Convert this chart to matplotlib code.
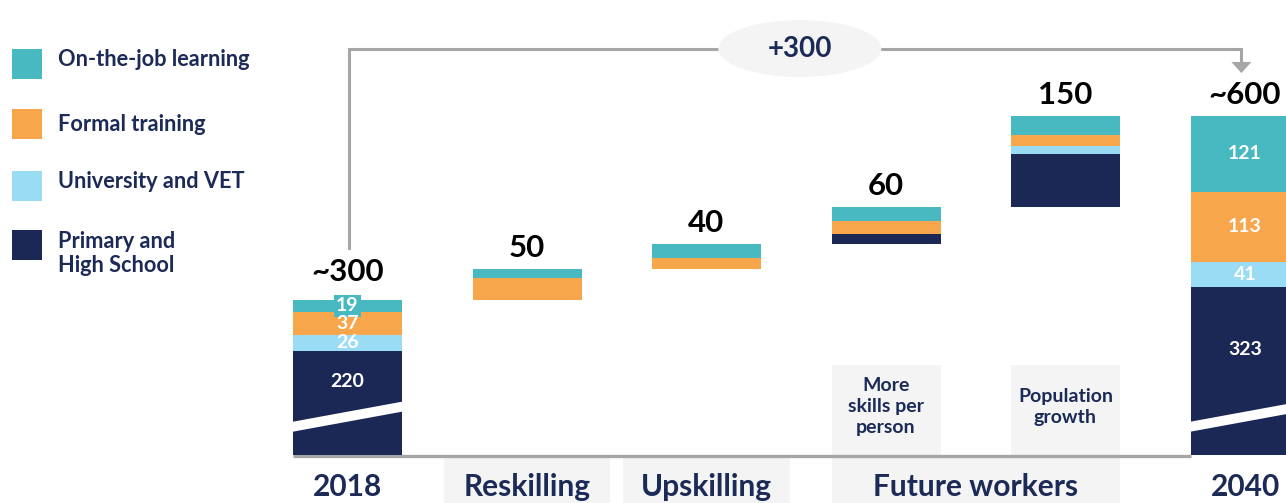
import matplotlib
matplotlib.use("Agg")
import matplotlib.pyplot as plt
from matplotlib.patches import Rectangle, Ellipse, Polygon
from matplotlib.transforms import Affine2D

# ---------------- data ----------------
steps = ["2018", "Reskilling", "Upskilling", "More\nskills per\nperson", "Population\ngrowth", "2040"]
is_total = [True, False, False, False, False, True]
bottom_labels = ["2018", "Reskilling", "Upskilling", "Future workers", "2040"]
bottom_label_pos = [0, 1, 2, 3.5, 5]
series_names = ["Primary and\nHigh School", "University and VET", "Formal training", "On-the-job learning"]
primary = [220, 0, 0, 16, 85, 323]
university = [26, 0, 0, 0, 13, 41]
formal = [37, 36, 18, 22, 18, 113]
on_job = [19, 14, 22, 22, 31, 121]
total_labels = ["~300", "50", "40", "60", "150", "~600"]
growth_label = "+300"

# ---------------- style ----------------
colors = ["#1B2855", "#9BDCF5", "#F7A64C", "#48B9C1"]
NAVY = "#1B2A56"
GRAY = "#A6A6A6"
BOX = "#F4F4F4"
FONT = "Lato"
plt.rcParams["font.family"] = [FONT, "DejaVu Sans"]

W, H = 1286, 503
fig = plt.figure(figsize=(W / 100, H / 100), dpi=100)
ax = fig.add_axes([0, 0, 1, 1])
step_px, x0_px, base_px, scale = 179.5, 347.5, 455, 0.62
ax.set_xlim(-x0_px / step_px, (W - x0_px) / step_px)
ax.set_ylim(-(H - base_px) / scale, base_px / scale)
ax.axis("off")
pix = Affine2D().scale(1 / W, -1 / H).translate(0, 1) + fig.transFigure

CUT = 52                 # amount hidden by the axis break on the total bars
bar_w = 109 / step_px

# ---------------- bars ----------------
series = [primary, university, formal, on_job]
running = 0
tops = []
for i in range(len(steps)):
    vals = [s[i] for s in series]
    if is_total[i]:
        bottom = 0
        for k, v in enumerate(vals):
            h = v - CUT if k == 0 else v
            ax.bar(i, h, bottom=bottom, width=bar_w, color=colors[k], zorder=2)
            bottom += h
        running = sum(vals)
    else:
        bottom = running - CUT
        for k, v in enumerate(vals):
            if v > 0:
                ax.bar(i, v, bottom=bottom, width=bar_w, color=colors[k], zorder=2)
                bottom += v
        running += sum(vals)
    tops.append(bottom)

# axis-break slashes + segment labels on total bars
for i in range(len(steps)):
    if not is_total[i]:
        continue
    l, r = i - bar_w / 2 - 0.01, i + bar_w / 2 + 0.01
    ax.add_patch(Polygon([(l, 53.2), (r, 86.5), (r, 70.4), (l, 37.1)],
                         closed=True, facecolor="white", edgecolor="none", zorder=3))
    vals = [s[i] for s in series]
    seg_top = vals[0] - CUT
    ax.text(i, (seg_top + 63) / 2 + 3, str(vals[0]), ha="center", va="center",
            color="white", fontsize=14, fontweight="bold", zorder=4)
    bottom = seg_top
    for k in range(1, 4):
        ytxt = bottom + vals[k] / 2
        kw = {}
        z = 5
        if vals[k] < 25:
            kw["bbox"] = dict(boxstyle="square,pad=0.12", fc=colors[k], ec="none")
            z = 4
        ax.text(i, ytxt, str(vals[k]), ha="center", va="center", color="white",
                fontsize=14, fontweight="bold", zorder=z, **kw)
        bottom += vals[k]

# total / delta value labels
for i, lab in enumerate(total_labels):
    off = 45 if i == 0 else 34
    ax.text(i, tops[i] + off, lab, ha="center", va="center", color="black",
            fontsize=22.5, fontweight="bold", zorder=4)

# ---------------- bottom category boxes ----------------
ybot = ax.get_ylim()[0]
for c in (1, 2):
    ax.add_patch(Rectangle((c - 0.465, ybot), 0.93, -4.8 - ybot, facecolor=BOX,
                           edgecolor="none", zorder=0))
ax.add_patch(Rectangle((3 - bar_w / 2, ybot), 1 + bar_w, -4.8 - ybot, facecolor=BOX,
                       edgecolor="none", zorder=0))
for lab, xpos in zip(bottom_labels, bottom_label_pos):
    ax.text(xpos, -51.5, lab, ha="center", va="center", color=NAVY,
            fontsize=21.5, fontweight="bold")

# upper sub-label boxes for the future-workers drivers
for i in (3, 4):
    ax.add_patch(Rectangle((i - bar_w / 2, 0), bar_w, 145, facecolor=BOX,
                           edgecolor="none", zorder=0))
    ax.text(i, 78, steps[i], ha="center", va="center", color=NAVY, fontsize=14,
            fontweight="bold", linespacing=1.3, zorder=1)

# baseline
ax.plot([-bar_w / 2, 5 - bar_w / 2], [-2.2, -2.2], color=GRAY, lw=2.4, zorder=1,
        solid_capstyle="butt")

# ---------------- growth connector ----------------
y_line = 654.8
xl, xr = 0.01, 4.98
ax.plot([xl, xl, xr, xr], [tops[0] + 84, y_line, y_line, 634], color=GRAY, lw=2.2,
        zorder=1, solid_joinstyle="miter")
ax.add_patch(Polygon([(xr - 0.056, 634), (xr + 0.056, 634), (xr, 616)], closed=True,
                     facecolor=GRAY, edgecolor="none", zorder=1))
ax.add_patch(Ellipse((2.52, 655.6), 0.908, 92, facecolor=BOX, edgecolor="none", zorder=2))
ax.text(2.52, 655.6, growth_label, ha="center", va="center", color=NAVY,
        fontsize=20, fontweight="bold", zorder=3)

# ---------------- legend ----------------
leg_order = [3, 2, 1, 0]
sq_tops = [49, 109, 171, 230]
baselines = [[66], [131], [188], [248, 272]]
for k, top, bls in zip(leg_order, sq_tops, baselines):
    fig.patches.append(Rectangle((12, top), 30, 30, transform=pix,
                                 facecolor=colors[k], edgecolor="none"))
    for line, bl in zip(series_names[k].split("\n"), bls):
        fig.text(58, bl, line, transform=pix, ha="left", va="baseline", color=NAVY,
                 fontsize=15.7, fontweight="bold")

fig.savefig("out.png", dpi=100)
